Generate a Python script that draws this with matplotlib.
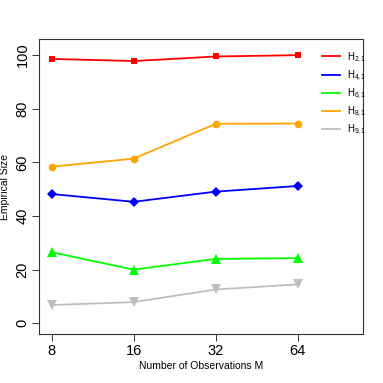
import matplotlib
matplotlib.use('agg')
import matplotlib.pyplot as plt

plt.rcParams['font.family'] = ['Liberation Sans', 'DejaVu Sans']
plt.rcParams['mathtext.fontset'] = 'custom'
plt.rcParams['mathtext.rm'] = 'Liberation Sans'
plt.rcParams['mathtext.it'] = 'Liberation Sans'

# data
obs_labels = ['8', '16', '32', '64']
h21 = [98.6, 97.8, 99.5, 100.0]
h41 = [48.2, 45.3, 49.1, 51.2]
h61 = [26.5, 20.0, 24.0, 24.3]
h81 = [58.4, 61.4, 74.4, 74.5]
h91 = [6.8, 7.9, 12.6, 14.5]
names = [r'H$_{\mathrm{2,1}}$', r'H$_{\mathrm{4,1}}$', r'H$_{\mathrm{6,1}}$',
         r'H$_{\mathrm{8,1}}$', r'H$_{\mathrm{9,1}}$']

series = [h21, h41, h61, h81, h91]
colors = ['#ff0000', '#0000ff', '#00ff00', '#ffa500', '#bebebe']
markers = ['s', 'D', '^', 'o', 'v']
msizes = [5, 5, 6.5, 5.5, 6.5]

fig = plt.figure(figsize=(3.83, 3.83), dpi=100)
ax = fig.add_axes([0.1026, 0.128, 0.8444, 0.770])

xs = range(1, len(obs_labels) + 1)
for vals, c, m, ms, nm in zip(series, colors, markers, msizes, names):
    ax.plot(xs, vals, color=c, marker=m, markersize=ms, linewidth=1.3,
            markeredgewidth=0, label=nm)

ax.set_xlim(0.85, 4.79)
ax.set_ylim(-4, 106)
ax.set_xticks(list(xs))
ax.set_xticklabels(obs_labels, fontsize=10.5)
ax.set_yticks(range(0, 101, 20))
ax.set_yticklabels([str(v) for v in range(0, 101, 20)], fontsize=10.5,
                   rotation=90, va='center')
ax.tick_params(length=5, width=0.7, color='#333333', pad=2)
for s in ax.spines.values():
    s.set_linewidth(0.8)
    s.set_color('#333333')

ax.set_xlabel('Number of Observations M', fontsize=7.5)
ax.set_ylabel('Empirical Size', fontsize=7.5)
ax.xaxis.set_label_coords(0.5, -0.092)
ax.yaxis.set_label_coords(-0.091, 0.5)

leg = ax.legend(loc='upper left', bbox_to_anchor=(0.862, 0.975), frameon=False,
                fontsize=7, handlelength=1.85, handletextpad=0.7,
                labelspacing=0.4, borderaxespad=0)
for h in leg.legend_handles:
    h.set_marker('')

fig.savefig('out.png', dpi=100)
